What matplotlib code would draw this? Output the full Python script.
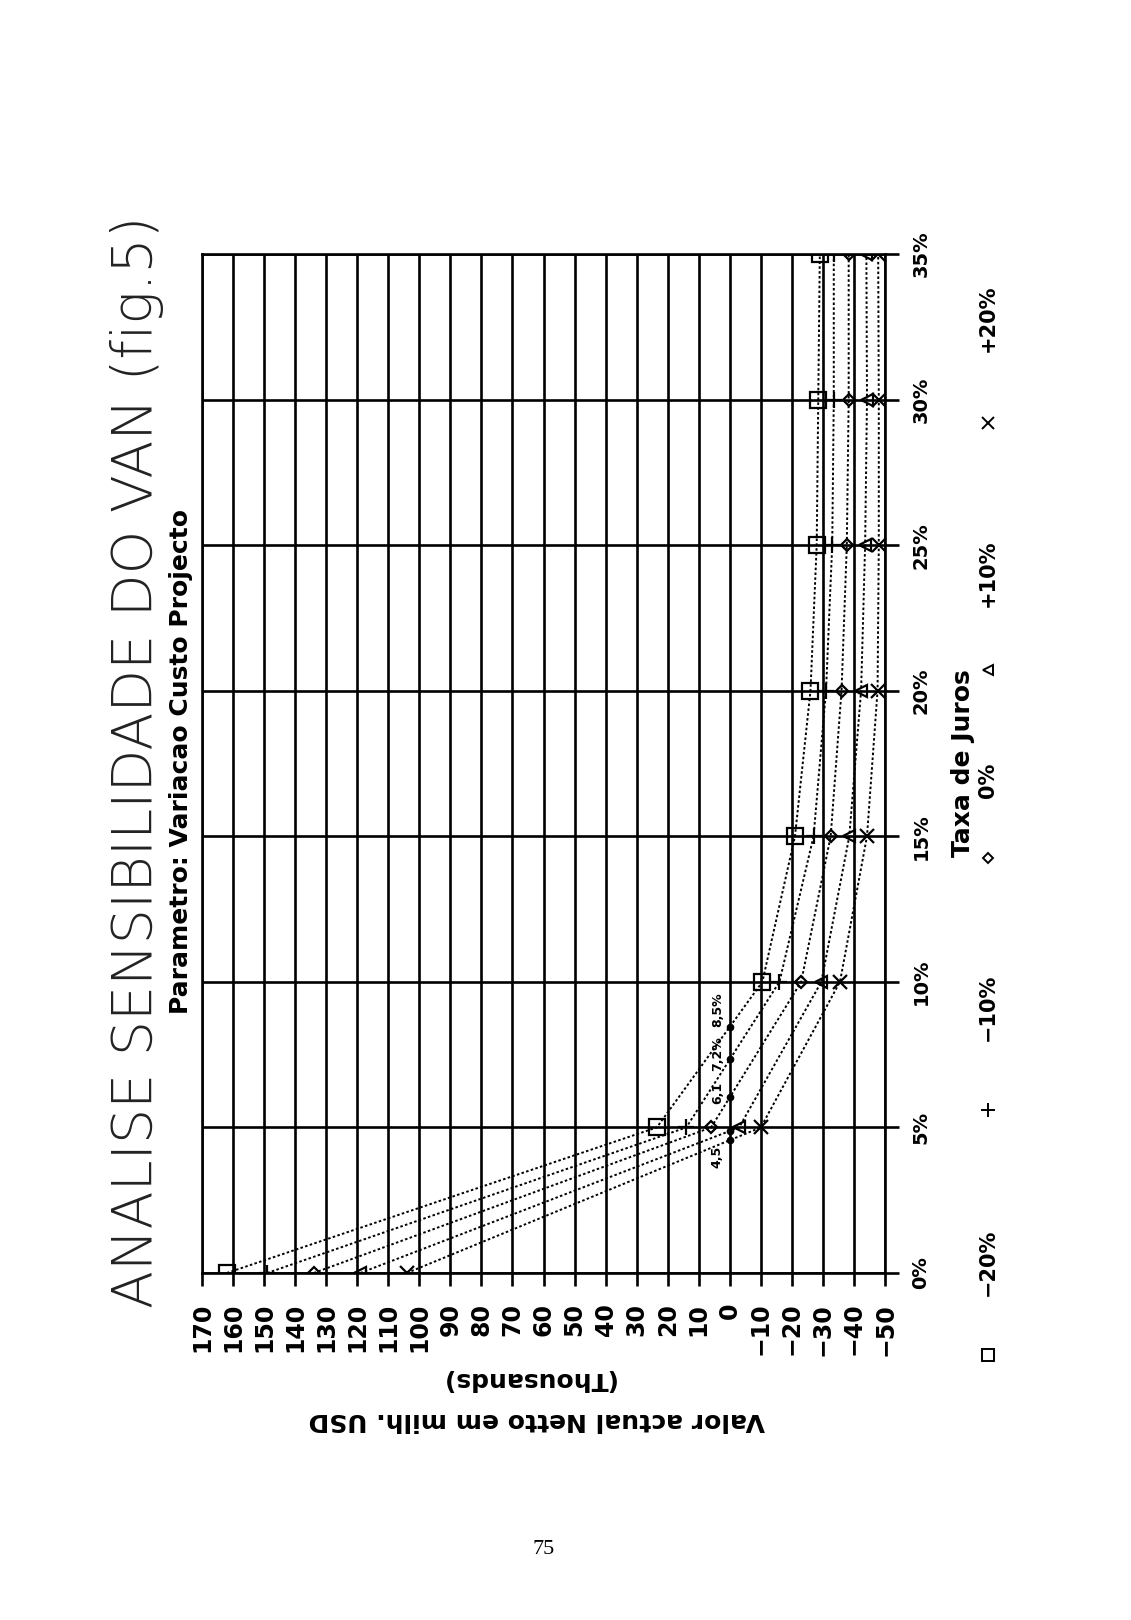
import numpy as np
import matplotlib
matplotlib.use("Agg")
import matplotlib.pyplot as plt
from matplotlib.lines import Line2D

# Taxa de juros (%) e VAN (milhares USD) para cada variacao do custo do projecto
taxas = [0, 5, 10, 15, 20, 25, 30, 35]
van_m20 = [162, 23.5, -10.5, -21, -26, -28, -28.5, -29]
van_m10 = [149, 14, -16, -27, -31, -33, -33.5, -33.5]
van_0 = [134, 6, -23, -32.5, -36, -37.7, -38.3, -38.3]
van_p10 = [119, -3, -29.5, -38.5, -42.3, -43.6, -44.2, -44]
van_p20 = [104, -10, -35.5, -44.2, -47.6, -48, -48, -47.8]

series_labels = ["\u221220%", "\u221210%", "0%", "+10%", "+20%"]
tir_labels = ["8,5%", "7,2%", "6,1", None, "4,5"]
val_ticks = list(range(170, -51, -10))
taxa_ticks = list(range(0, 36, 5))

series = [van_m20, van_m10, van_0, van_p10, van_p20]
markers = ["s", "+", "D", "<", "x"]
msizes = [11, 12, 6, 9, 10]
tir_shift = [0.0, -0.38, -0.22, 0.0, -0.2]

W, H = 1131, 1620
fig = plt.figure(figsize=(W / 100, H / 100), dpi=100)
fig.patch.set_facecolor("white")

# grafico desenhado ja rodado (eixo das taxas na vertical)
ax = fig.add_axes([202 / W, 1 - 1273 / H, 683 / W, 1019 / H])
ax.set_xlim(170, -50)
ax.set_ylim(0, 35)

for vals, mk, ms in zip(series, markers, msizes):
    ax.plot(vals, taxas, color="black", lw=1.4, ls=(0, (1.3, 1.2)),
            marker=mk, ms=ms, mfc="none", mec="black", mew=1.6, zorder=3)

# pontos da TIR (VAN = 0) e respectivas etiquetas
for vals, lab, sh in zip(series, tir_labels, tir_shift):
    tir = np.interp(0, vals[::-1], taxas[::-1])
    ax.plot([0], [tir], "o", color="black", ms=4.5, zorder=4)
    if lab is None:
        continue
    ax.text(4, tir + sh, lab, rotation=90, ha="center",
            va="top" if tir < 5 else "bottom", fontsize=9, fontweight="bold")

ax.set_xticks(val_ticks)
ax.set_xticklabels([str(v).replace("-", "\u2212") for v in val_ticks])
ax.set_yticks(taxa_ticks)
ax.set_yticklabels([f"{t}%" for t in taxa_ticks])
ax.yaxis.tick_right()
ax.grid(True, color="black", lw=1.9)
ax.set_axisbelow(True)
for sp in ax.spines.values():
    sp.set_linewidth(1.9)
ax.tick_params(axis="x", direction="out", length=9.5, width=1.9, pad=12,
               labelsize=17, labelrotation=90)
ax.tick_params(axis="y", direction="out", length=10, width=1.9, pad=9,
               labelsize=14)
for lab in ax.get_xticklabels():
    lab.set_fontweight("bold")
for lab in ax.get_yticklabels():
    lab.set_fontweight("bold")
    lab.set_rotation(90)
    lab.set_va("center")
    lab.set_ha("left")

# titulos
fig.text(137 / W, 1 - 762 / H, "ANALISE SENSIBILIDADE DO VAN (fig.5)",
         rotation=90, ha="center", va="center", fontsize=40,
         fontweight="light", color="#222222")
fig.text(181 / W, 1 - 761 / H, "Parametro: Variacao Custo Projecto",
         rotation=90, ha="center", va="center", fontsize=18, fontweight="bold")

# rotulo do eixo dos valores (de cabeca para baixo)
fig.text(537 / W, 1 - 1420 / H, "Valor actual Netto em milh. USD",
         rotation=180, ha="center", va="center", fontsize=18, fontweight="bold")
fig.text(527 / W, 1 - 1379 / H, "(Thousands)",
         rotation=180, ha="center", va="center", fontsize=18, fontweight="bold")

# rotulo do eixo das taxas
fig.text(963 / W, 1 - 763 / H, "Taxa de Juros", rotation=90,
         ha="center", va="center", fontsize=18, fontweight="bold")

# legenda
leg_mark_y = [1355, 1110, 858, 670, 423]
leg_text_y = [1262, 1007, 780, 573, 318]
for mk, ms, lab, my, ty in zip(markers, msizes, series_labels, leg_mark_y, leg_text_y):
    fig.add_artist(Line2D([988 / W], [1 - my / H], marker=mk, ms=ms * 0.85,
                          mfc="none", mec="black", mew=1.4, ls="none",
                          transform=fig.transFigure))
    fig.text(988 / W, 1 - ty / H, lab, rotation=90, ha="center", va="center",
             fontsize=15, fontweight="bold")

# numero da pagina
fig.text(544 / W, 1 - 1549 / H, "75", ha="center", va="center",
         fontsize=16, family="Liberation Serif")

fig.savefig("out.png", dpi=100, facecolor="white")
